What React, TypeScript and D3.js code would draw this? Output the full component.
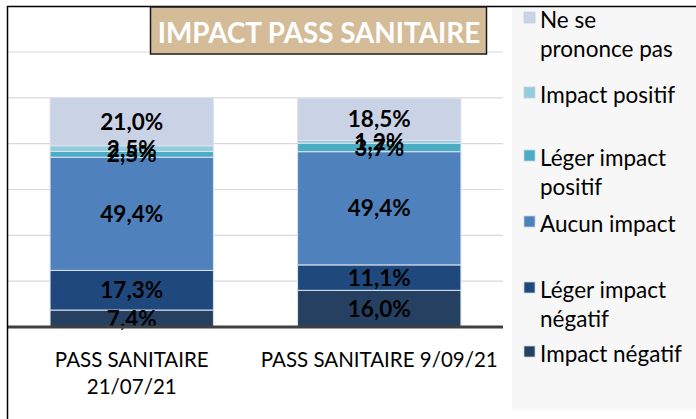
import React from 'react';
import * as d3 from 'd3';

// chart data (bottom to top of each stacked bar)
const categories = ['PASS SANITAIRE\n21/07/21', 'PASS SANITAIRE 9/09/21'];
const seriesNames = [
  'Impact négatif',
  'Léger impact négatif',
  'Aucun impact',
  'Léger impact positif',
  'Impact positif',
  'Ne se prononce pas',
];
const legendLabels = [
  'Impact négatif',
  'Léger impact\nnégatif',
  'Aucun impact',
  'Léger impact\npositif',
  'Impact positif',
  'Ne se\nprononce pas',
];
const impactNegatif = [7.4, 16.0];
const legerNegatif = [17.3, 11.1];
const aucunImpact = [49.4, 49.4];
const legerPositif = [2.5, 3.7];
const impactPositif = [2.5, 1.2];
const neSePrononcePas = [21.0, 18.5];
const seriesColors = ['#254061', '#1f497d', '#4f81bd', '#4bacc6', '#93cddd', '#cad2e5'];
const yTicks = [0, 20, 40, 60, 80, 100, 120];

const W = 696;
const H = 419;
const plot = { left: 8, right: 503, top: 52, bottom: 327 };
const FONT = 'Lato, "Open Sans", sans-serif';
// legend entry tops, top to bottom (layout)
const legendSlots = [12, 87, 150, 216, 282, 346];

const App = () => {
  const values = [impactNegatif, legerNegatif, aucunImpact, legerPositif, impactPositif, neSePrononcePas];
  const rows = categories.map((c, i) => {
    const r: any = { cat: c };
    seriesNames.forEach((s, j) => (r[s] = values[j][i]));
    return r;
  });
  const stacked = d3.stack().keys(seriesNames)(rows);

  const x = d3.scaleBand().domain(categories).range([plot.left, plot.right]).paddingInner(0.34).paddingOuter(0.17);
  const y = d3.scaleLinear().domain([0, 120]).range([plot.bottom, plot.top]);
  const fmt = (v: number) => d3.format('.1f')(v).replace('.', ',') + '%';

  const legendX = 524;

  return (
    <svg width={W} height={H} style={{ position: 'absolute', left: 0, top: 0, background: '#fff' }} fontFamily={FONT}>
      {/* legend panel */}
      <rect x={512} y={8} width={W - 512} height={402} fill="#f7f7f7" />

      {/* gridlines */}
      {yTicks.map((t) => (
        <line key={t} x1={plot.left} x2={plot.right} y1={y(t)} y2={y(t)} stroke="#d9d9d9" strokeWidth={1.2} />
      ))}

      {/* bars */}
      {stacked.map((layer, j) => (
        <g key={layer.key} fill={seriesColors[j]}>
          {layer.map((d, i) => (
            <rect
              key={i}
              x={x(categories[i])}
              width={x.bandwidth()}
              y={y(d[1])}
              height={y(d[0]) - y(d[1])}
              stroke="#dbe2ee"
              strokeWidth={1}
            />
          ))}
        </g>
      ))}

      {/* data labels */}
      {stacked.map((layer) =>
        layer.map((d, i) => (
          <text
            key={layer.key + i}
            x={x(categories[i])! + x.bandwidth() / 2}
            y={(y(d[0]) + y(d[1])) / 2}
            dy="0.36em"
            textAnchor="middle"
            fontSize={22.5}
            fontWeight="bold"
            fill="#000"
          >
            {fmt(d[1] - d[0])}
          </text>
        ))
      )}

      {/* axis baseline */}
      <line x1={plot.left} x2={plot.right} y1={plot.bottom} y2={plot.bottom} stroke="#404040" strokeWidth={3} />

      {/* category labels */}
      {categories.map((c) => (
        <text key={c} x={x(c)! + x.bandwidth() / 2} y={367} textAnchor="middle" fontSize={20.5} fill="#000">
          {c.split('\n').map((line, k) => (
            <tspan key={k} x={x(c)! + x.bandwidth() / 2} dy={k === 0 ? 0 : 27}>
              {line}
            </tspan>
          ))}
        </text>
      ))}

      {/* legend (reverse of stack order) */}
      {d3.reverse(d3.range(seriesNames.length)).map((j, k) => {
        const top = legendSlots[k];
        return (
          <g key={j}>
            <rect x={legendX} y={top} width={11} height={11} fill={seriesColors[j]} stroke="#c5d0e2" strokeWidth={0.8} />
            <text x={540} y={top + 16} fontSize={22.5} fill="#000">
              {legendLabels[j].split('\n').map((line, n) => (
                <tspan key={n} x={540} dy={n === 0 ? 0 : 29}>
                  {line}
                </tspan>
              ))}
            </text>
          </g>
        );
      })}

      {/* frame */}
      <line x1={7.5} x2={7.5} y1={6} y2={H} stroke="#000" strokeWidth={1.5} />
      <line x1={7} x2={W} y1={6.5} y2={6.5} stroke="#000" strokeWidth={1.5} />

      {/* title */}
      <rect x={150.5} y={7} width={336} height={47} fill="#d5bc99" stroke="#1a1a1a" strokeWidth={1.5} />
      <text x={319} y={43} textAnchor="middle" fontSize={27.8} fontWeight="bold" fill="#fff">
        IMPACT PASS SANITAIRE
      </text>
    </svg>
  );
};

export default App;
